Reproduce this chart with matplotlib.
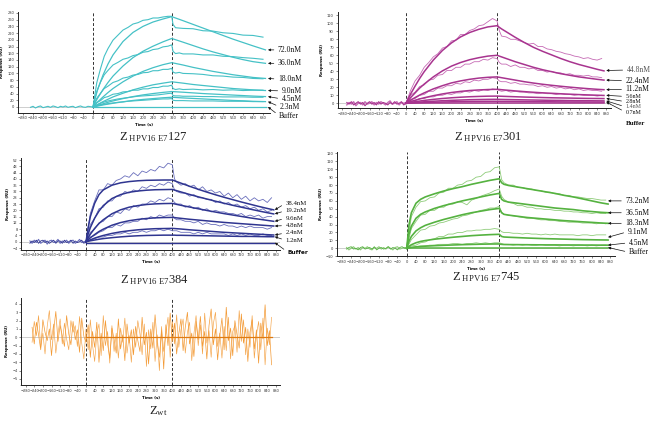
import matplotlib
matplotlib.use('Agg')
import matplotlib.pyplot as plt
from matplotlib.ticker import MultipleLocator

plt.rcParams['font.family'] = 'DejaVu Sans'
plt.rcParams['mathtext.fontset'] = 'custom'
plt.rcParams['mathtext.rm'] = 'Liberation Serif'
plt.rcParams['mathtext.it'] = 'Liberation Serif:italic'

# ---------------- shared time grids (s) ----------------
t_fit = [0, 10, 20, 40, 60, 80, 120, 160, 200, 240, 280, 320, 360, 400,
         410, 420, 440, 480, 520, 560, 600, 640, 680, 720, 760, 800, 840, 870]
t_raw = list(range(0, 401, 20)) + [410] + list(range(420, 861, 20))
t_base = list(range(-260, 1, 10))

# ---------------- Panel 1 : Z HPV16 E7 127 ----------------
p1_labels = ['72.0nM', '36.0nM', '18.0nM', '9.0nM', '4.5nM', '2.3nM', 'Buffer']
p1_t_fit = [0, 10, 20, 40, 60, 80, 120, 160, 200, 240, 280, 315,
            360, 400, 440, 480, 520, 560, 600, 640, 690]
p1_t_raw = [0, 15, 30, 45, 60, 80, 100, 120, 140, 160, 180, 200, 220, 240, 260,
            280, 300, 315, 320, 330, 345, 360, 400, 440, 480, 520, 560, 600, 640, 680]
p1_t_base = list(range(-250, 1, 10))
p1_fit_720 = [0, 30, 55, 95, 128, 155, 195, 222, 240, 253, 262, 269, 257, 246, 235, 224, 213, 202, 192, 182, 170]
p1_fit_360 = [0, 15, 28, 52, 73, 92, 122, 147, 166, 181, 194, 204, 193, 183, 173, 164, 156, 148, 141, 135, 130]
p1_fit_180 = [0, 8, 16, 30, 43, 55, 75, 92, 106, 117, 126, 132, 125, 118, 112, 106, 101, 96, 92, 88, 85]
p1_fit_090 = [0, 4, 8, 16, 23, 30, 41, 51, 59, 66, 71, 75, 71, 67, 64, 61, 58, 55, 53, 51, 49]
p1_fit_045 = [0, 2.5, 5, 9.5, 14, 18, 25, 31, 36, 40, 43.5, 46, 44, 42, 40, 38.5, 37, 35.5, 34, 32.5, 31]
p1_fit_023 = [0, 1.5, 3, 6, 8.5, 11, 15.5, 19.5, 22.5, 25, 27.5, 29, 27, 25.5, 24, 22.5, 21, 19.5, 18.5, 17, 16]
p1_raw_720 = [0, 72, 114, 151, 174, 199, 214, 229, 237, 247, 251, 258, 260, 265, 265, 268, 270, 270,
              246, 236, 235, 234, 233, 227, 226, 221, 219, 214, 213, 208]
p1_raw_360 = [0, 46, 74, 96, 109, 125, 133, 142, 146, 153, 156, 163, 165, 171, 173, 179, 181, 185,
              166, 159, 161, 158, 158, 155, 155, 151, 150, 147, 145, 142]
p1_raw_180 = [0, 26, 41, 55, 62, 73, 78, 86, 89, 95, 97, 102, 103, 108, 108, 112, 112, 115,
              104, 101, 103, 100, 99, 97, 93, 92, 89, 88, 85, 84]
p1_raw_090 = [0, 13, 19, 28, 31, 38, 40, 45, 46, 50, 50, 54, 54, 58, 58, 62, 62, 65,
              55, 52, 54, 52, 53, 51, 52, 50, 51, 49, 50, 50]
p1_raw_045 = [0, 6, 11, 15, 18, 21, 24, 26, 28, 30, 32, 33, 34, 35, 36, 38, 40, 41,
              34, 33, 33, 32, 32, 31, 31, 30, 30, 30, 29, 29]
p1_raw_023 = [0, 3, 6, 8, 10, 12, 14, 15, 17, 18, 19, 20, 21, 22, 23, 24, 24, 25,
              20, 19, 19, 19, 18, 18, 18, 17, 17, 17, 16, 16]
p1_base = [-1, 2, -3, 1, 3, -2, 0, 2, -1, 3, 1, -2, 2, 0, 3, -1, 1, 2, -2, 1, 3, 0, -1, 2, 1, 0]

# ---------------- Panel 2 : Z HPV16 E7 301 ----------------
p2_labels = ['44.8nM', '22.4nM', '11.2nM', '5.6nM', '2.8nM', '1.4nM', '0.7nM', 'Buffer']
p2_fit_448 = [0, 6, 11.5, 21.5, 31, 39.5, 54, 66, 75.5, 83, 88.5, 92.5, 95.5, 97,
              95, 93, 89.5, 82.5, 76, 70, 65, 60.5, 56, 52, 48.5, 45.5, 42.5, 40.5]
p2_fit_224 = [0, 3.5, 7, 13, 19, 24, 33, 40.5, 46.5, 51, 54.5, 57, 59, 60,
              59, 58, 56, 52, 48.5, 45, 42, 39.5, 37, 35, 33, 31.5, 30, 29]
p2_fit_112 = [0, 2, 3.8, 7.2, 10.3, 13, 18, 22, 25.5, 28, 30, 31.5, 32.5, 33,
              32.5, 32, 31, 29, 27, 25.3, 23.8, 22.5, 21.3, 20.2, 19.2, 18.3, 17.5, 17]
p2_fit_056 = [0, 1, 2, 3.8, 5.4, 6.9, 9.5, 11.7, 13.5, 14.9, 16, 16.7, 17.2, 17.5,
              17.3, 17, 16.5, 15.5, 14.6, 13.8, 13.1, 12.5, 11.9, 11.4, 10.9, 10.5, 10.1, 9.8]
p2_fit_028 = [0, 0.5, 1, 2, 2.8, 3.6, 4.9, 6, 6.9, 7.6, 8.2, 8.6, 8.9, 9,
              8.9, 8.8, 8.6, 8.2, 7.8, 7.5, 7.2, 6.9, 6.7, 6.5, 6.3, 6.1, 6, 5.9]
p2_fit_014 = [0, 0.3, 0.5, 1, 1.5, 1.9, 2.6, 3.2, 3.7, 4.1, 4.5, 4.7, 4.9, 5,
              4.9, 4.8, 4.7, 4.5, 4.3, 4.1, 3.9, 3.7, 3.6, 3.4, 3.3, 3.2, 3.1, 3]
p2_fit_007 = [0, 0.1, 0.3, 0.5, 0.7, 0.9, 1.3, 1.6, 1.9, 2.1, 2.3, 2.4, 2.5, 2.5,
              2.5, 2.4, 2.4, 2.3, 2.2, 2.1, 2, 1.9, 1.8, 1.7, 1.7, 1.6, 1.6, 1.5]
p2_raw_448 = [0, 16, 28, 35, 45, 51, 58, 62, 69, 71, 78, 79, 86, 86, 91, 93, 97, 98, 102, 106, 103, 91,
              84, 83, 80, 80, 78, 76, 74, 75, 71, 71, 68, 67, 65, 64, 62, 61, 59, 58, 56, 57, 55, 54, 56]
p2_raw_224 = [0, 10, 14, 21, 23, 29, 30, 35, 36, 41, 41, 45, 45, 49, 49, 52, 52, 55, 54, 57, 56, 51,
              49, 49, 46, 48, 45, 45, 43, 44, 41, 41, 39, 40, 38, 38, 36, 37, 35, 35, 34, 35, 33, 33, 32]
p2_raw_112 = [0, 5, 6, 10, 11, 15, 15, 19, 19, 22, 22, 25, 24, 27, 26, 29, 28, 30, 30, 32, 31, 28,
              27, 27, 25, 26, 24, 24, 23, 23, 21, 22, 20, 21, 19, 20, 18, 19, 17, 18, 16, 17, 16, 16, 15]
p2_raw_056 = [0, 3, 3, 6, 6, 8, 8, 10, 10, 12, 11, 13, 13, 15, 14, 16, 15, 17, 16, 18, 17, 16,
              15, 16, 14, 15, 14, 14, 13, 13, 12, 13, 12, 12, 11, 12, 11, 11, 10, 11, 10, 10, 10, 9, 10]
p2_base_a = [-2, 1, -1, 2, -3, 0, 1, -2, 2, -1, 0, 2, -2, 1, -1, 2, 0, -2, 1, 3, -1, 0, 2, -2, 1, 0, 1]
p2_base_b = [1, -1, 2, -2, 0, 2, -1, 1, -3, 0, 2, -1, 1, -2, 2, -1, 1, 0, -2, 1, -1, 2, -1, 0, 2, -2, 0]

# ---------------- Panel 3 : Z HPV16 E7 384 ----------------
p3_labels = ['38.4nM', '19.2nM', '9.6nM', '4.8nM', '2.4nM', '1.2nM', 'Buffer']
p3_fit_384 = [0, 9, 16, 24.5, 30, 33, 36, 37.5, 38.3, 38.8, 39.1, 39.2, 39.3, 39.3,
              38.8, 38.3, 37.3, 35.3, 33.4, 31.6, 29.9, 28.3, 26.8, 25.3, 23.9, 22.5, 21.2, 20.3]
p3_fit_192 = [0, 5, 9, 15, 19.5, 23, 27.5, 30, 31.5, 32.3, 32.8, 33.1, 33.2, 33.3,
              32.9, 32.5, 31.7, 30.1, 28.6, 27.2, 25.8, 24.5, 23.2, 22, 20.8, 19.6, 18.5, 17.7]
p3_fit_096 = [0, 2.5, 4.8, 8.5, 11.6, 14, 17.8, 20.3, 22, 23, 23.7, 24.1, 24.3, 24.4,
              24.1, 23.8, 23.2, 22.1, 21, 19.9, 18.9, 17.9, 17, 16.1, 15.2, 14.4, 13.6, 13]
p3_fit_048 = [0, 1.3, 2.5, 4.6, 6.5, 8, 10.5, 12.2, 13.4, 14.2, 14.8, 15.2, 15.4, 15.5,
              15.4, 15.2, 14.9, 14.3, 13.8, 13.3, 12.8, 12.3, 11.9, 11.5, 11.1, 10.7, 10.3, 10]
p3_fit_024 = [0, 0.6, 1.2, 2.3, 3.2, 4, 5.3, 6.3, 7, 7.6, 8, 8.3, 8.4, 8.5,
              8.4, 8.3, 8.1, 7.6, 7.2, 6.8, 6.4, 6.0, 5.7, 5.4, 5.1, 4.8, 4.5, 4.3]
p3_fit_012 = [0, 0.3, 0.6, 1.1, 1.6, 2, 2.6, 3.1, 3.5, 3.8, 4, 4.1, 4.2, 4.2,
              4.2, 4.1, 4.1, 4, 3.9, 3.8, 3.7, 3.6, 3.5, 3.4, 3.4, 3.3, 3.2, 3.2]
p3_raw_384 = [0, 18, 26, 33, 33, 37, 36, 39, 40, 42, 41, 44, 42, 45, 44, 46, 45, 48, 47, 50, 49, 40,
              38, 36, 37, 35, 36, 33, 35, 32, 33, 31, 32, 29, 31, 28, 30, 27, 29, 26, 28, 26, 27, 25, 28]
p3_raw_192 = [0, 11, 15, 21, 22, 26, 26, 29, 29, 32, 31, 33, 32, 35, 34, 36, 35, 37, 36, 38, 37, 33,
              32, 31, 31, 29, 30, 28, 28, 27, 27, 25, 26, 24, 25, 23, 24, 22, 23, 21, 22, 20, 21, 19, 20]
p3_raw_096 = [0, 6, 8, 12, 13, 16, 16, 19, 18, 21, 20, 23, 22, 24, 24, 26, 25, 27, 26, 28, 27, 25,
              24, 24, 22, 23, 21, 22, 20, 21, 19, 20, 19, 19, 18, 18, 17, 18, 16, 17, 16, 17, 15, 16, 16]
p3_raw_048 = [0, 3, 4, 6, 7, 9, 9, 11, 10, 12, 12, 13, 13, 15, 14, 16, 15, 17, 16, 17, 17, 15,
              14, 14, 13, 13, 12, 13, 11, 12, 11, 11, 10, 11, 10, 10, 9, 10, 9, 10, 9, 9, 9, 8, 9]
p3_raw_024 = [0, 1, 2, 3, 3, 4, 4, 5, 5, 6, 5, 6, 6, 7, 6, 7, 7, 8, 7, 8, 7, 7,
              7, 6, 6, 6, 5, 6, 5, 6, 5, 5, 5, 5, 4, 5, 4, 5, 4, 5, 4, 4, 5, 4, 4]
p3_base_a = [0.5, -1, 1, -0.5, 1.5, -1, 0, 1, -1.5, 0.5, 1, -0.5, 0, 1.5, -1, 0.5, -0.5, 1, -1, 0.5,
             1, -1, 0, 1.5, -0.5, 0, 0.5]
p3_base_b = [-1, 0.5, -0.5, 1, -1, 0.5, 1, -0.5, 0.5, -1, 0, 1, -1, 0.5, 0.5, -1, 1, -0.5, 0, 1,
             -1, 0.5, -0.5, 0, 1, -1, 0]

# ---------------- Panel 4 : Z HPV16 E7 745 ----------------
p4_labels = ['73.2nM', '36.5nM', '18.3nM', '9.1nM', '4.5nM', 'Buffer']
p4_fit_732 = [0, 30, 45, 57, 62, 65, 69, 72.5, 75.5, 78, 81, 83.5, 86, 88,
              83, 81, 79.5, 77.5, 75.5, 73.5, 71.5, 69.5, 67, 65, 62.5, 60, 57.5, 56]
p4_fit_365 = [0, 18, 28, 38, 43, 46, 50.5, 54, 57, 60, 62.5, 65, 67.5, 69.5,
              62, 60, 58.5, 57, 55.5, 54, 52.5, 51, 50, 49, 47.5, 46.5, 45.5, 45]
p4_fit_183 = [0, 9, 15, 22, 26, 29, 33, 36.5, 39.5, 42.5, 45, 47, 49, 50.5,
              45, 43, 42, 40.5, 39, 38, 37, 36, 35, 34.3, 33.5, 32.8, 32, 31.6]
p4_fit_091 = [0, 2.5, 4.5, 7, 8.7, 9.8, 11.5, 12.8, 14, 15, 16, 16.7, 17.3, 17.7,
              15, 14.3, 14, 13.5, 13, 12.6, 12.2, 11.9, 11.6, 11.3, 11, 10.8, 10.6, 10.5]
p4_fit_045 = [0, 0.6, 1.1, 1.8, 2.3, 2.7, 3.3, 3.8, 4.2, 4.6, 4.9, 5.2, 5.4, 5.5,
              5, 4.8, 4.7, 4.6, 4.5, 4.4, 4.3, 4.3, 4.2, 4.2, 4.1, 4.1, 4, 4]
p4_raw_732 = [0, 40, 52, 59, 60, 64, 65, 70, 71, 76, 76, 80, 81, 85, 86, 90, 91, 96, 97, 102, 103, 87,
              83, 80, 80, 77, 77, 75, 75, 73, 73, 71, 71, 69, 69, 67, 67, 65, 65, 64, 63, 63, 62, 61, 61]
p4_raw_365 = [0, 25, 34, 42, 43, 48, 48, 52, 52, 56, 56, 59, 58, 55, 61, 63, 66, 68, 70, 73, 75, 66,
              62, 58, 57, 54, 54, 52, 52, 50, 50, 49, 49, 48, 48, 47, 47, 46, 46, 45, 45, 44, 45, 44, 44]
p4_raw_183 = [0, 11, 17, 23, 24, 28, 29, 32, 33, 35, 37, 38, 41, 42, 44, 46, 48, 49, 51, 51, 53, 46,
              43, 42, 41, 40, 39, 38, 38, 37, 36, 36, 35, 35, 34, 34, 33, 33, 33, 32, 32, 32, 31, 32, 31]
p4_raw_091 = [0, 3, 4, 7, 8, 11, 12, 15, 15, 18, 18, 20, 20, 22, 22, 23, 23, 24, 24, 25, 24, 21,
              20, 20, 19, 19, 18, 19, 18, 18, 17, 18, 17, 18, 17, 17, 17, 17, 16, 17, 17, 16, 17, 17, 17]
p4_raw_045 = [0, 1, 2, 3, 3, 4, 4, 5, 5, 5, 6, 6, 5, 6, 6, 7, 6, 7, 6, 7, 7, 6,
              5, 5, 4, 5, 4, 5, 4, 4, 5, 4, 4, 4, 3, 4, 4, 3, 4, 4, 3, 4, 3, 4, 4]
p4_base_a = [1, -2, 0, 2, -1, 1, -2, 1, 0, 2, -1, -2, 1, 0, 2, -1, 1, -1, 2, 0, -2, 1, 2, -1, 0, 1, 0]
p4_base_b = [-1, 1, 2, -1, 0, -2, 1, 2, -1, 0, 1, -1, 2, -2, 0, 1, -1, 0, 2, -1, 1, 0, -2, 1, 2, 0, 1]

# ---------------- Panel 5 : Z wt ----------------
p5_t = list(range(-250, 861, 10))
p5_raw_a = [1.2, -0.8, 1.8, 0.3, -1.5, 2.1, 0.6, -0.4, 1.0, -2.2,
            0.8, 3.1, -0.5, 1.4, 0.2, -1.1, 2.6, 0.4, -0.9, 1.9,
            -0.3, 0.9, -1.8, 2.3, 0.1, -0.6, 1.5, -2.4, 0.7, -1.2,
            1.8, -3.0, 0.5, -1.6, 2.0, -0.8, -2.5, 1.1, -0.2, -1.9,
            2.2, -1.4, 0.3, -2.8, 1.6, -0.7, 0.9, -2.1, 1.3, -0.4,
            -1.7, 2.4, -0.9, 0.6, -3.2, 1.0, -1.3, 2.7, -0.6, -2.4,
            0.8, -3.8, 1.5, -1.0, 2.9, -0.5, 1.7, -2.0, 0.4, 2.2,
            -1.6, 1.2, 3.0, -0.8, 0.5, -2.3, 1.9, -0.3, 2.5, -1.1,
            0.7, -2.6, 1.4, 3.4, -0.9, 1.0, -2.7, 0.2, 2.3, -1.5,
            3.6, -0.4, 1.1, -2.2, 2.0, 0.3, -1.3, 2.8, -0.7, 1.2,
            -2.9, 0.6, 2.1, -1.4, 0.9, -3.1, 1.7, -0.2, 3.9, -1.0, 0.8, -3.3]
p5_raw_b = [-0.6, 1.9, 0.2, 2.6, -1.2, 0.5, -2.0, 1.3, 3.2, -0.3,
            1.6, -1.9, 0.4, 2.2, -0.8, 1.7, -0.2, -1.5, 2.0, 0.6,
            1.4, -1.1, 2.5, -0.7, -2.6, 1.0, -1.5, 2.1, -0.9, -2.9,
            0.4, 1.6, -2.2, 2.6, -1.0, 0.7, -3.1, 1.4, -1.7, 0.5,
            -2.5, 1.1, -0.6, 2.3, -1.9, 0.2, -3.0, 1.0, -1.2, 2.0,
            0.4, -2.1, 1.6, -3.5, 0.9, -1.4, 1.8, -2.9, 0.3, -4.0,
            1.3, -1.7, 0.5, 2.4, -2.4, 1.9, -0.8, 2.7, -1.2, 0.9,
            2.2, -1.9, 0.6, 1.8, -2.8, 0.4, 2.6, -1.0, 1.5, -2.0,
            2.9, -0.7, 0.8, -2.4, 1.6, 3.0, -1.1, 0.5, -2.5, 1.3,
            -1.6, 2.4, -2.6, 0.7, 1.4, -1.8, 3.2, -0.5, 2.1, -2.1,
            1.0, -1.2, 2.6, -2.5, 0.3, 1.9, -1.5, 2.3, -3.3, 1.1, -0.9, 2.4]

# ---------------- colours ----------------
c1 = '#45C1C6'
c2_fit, c2_raw = '#A8348F', '#C66BB5'
c3_fit, c3_raw = '#2F3590', '#6A6FBC'
c4_fit, c4_raw = '#55B240', '#8FCC7A'
c5_raw, c5_fit = '#F39A35', '#E07B10'

W, H = 650, 423
fig = plt.figure(figsize=(6.5, 4.23), dpi=100)


def add_ax(l, t, r, b):
    return fig.add_axes([l / W, 1 - b / H, (r - l) / W, (b - t) / H])


def style(ax, xlim, ylim, xmaj, ymaj, xmin_t, xmax_t, ymin_t, ymax_t):
    ax.set_xlim(*xlim)
    ax.set_ylim(*ylim)
    ax.set_xticks(list(range(xmin_t, xmax_t + 1, xmaj)))
    ax.xaxis.set_minor_locator(MultipleLocator(xmaj / 2))
    yt = []
    v = ymin_t
    while v <= ymax_t + 1e-9:
        yt.append(v)
        v += ymaj
    ax.set_yticks(yt)
    for s in ('top', 'right'):
        ax.spines[s].set_visible(False)
    for s in ('left', 'bottom'):
        ax.spines[s].set_linewidth(0.7)
        ax.spines[s].set_color('#222222')
    ax.tick_params(axis='both', which='major', labelsize=2.6, length=1.5, width=0.4, pad=1.2,
                   colors='#333333')
    ax.tick_params(axis='x', which='minor', length=1.0, width=0.3, colors='#333333')
    ax.set_xlabel('Time (s)', fontsize=2.8, fontweight='bold', labelpad=2)
    ax.set_ylabel('Response (RU)', fontsize=2.8, fontweight='bold', labelpad=2)
    ax.axhline(0, color='#BBBBBB', lw=0.5, zorder=0)
    ax.patch.set_alpha(0)


def vdash(ax, xs):
    for x in xs:
        ax.axvline(x, color='#333333', lw=0.7, ls=(0, (3, 2)), zorder=1)


def label(ax, text, xt, yt, xa, ya, family='Liberation Serif', size=5.5, weight='normal', arrow=True,
          color='#111111'):
    if arrow:
        ax.annotate(text, xy=(xa, ya), xytext=(xt, yt), fontsize=size, family=family, weight=weight,
                    color=color, va='center', ha='left', annotation_clip=False,
                    arrowprops=dict(arrowstyle='-|>', color='#111111', lw=0.5, mutation_scale=3.5,
                                    shrinkA=1, shrinkB=0, relpos=(0, 0.5)))
    else:
        ax.text(xt, yt, text, fontsize=size, family=family, weight=weight, color=color,
                va='center', ha='left', clip_on=False)


def title(x, y, s):
    fig.text(x / W, 1 - y / H, s, ha='center', va='center', fontsize=9,
             family='Liberation Serif', color='#222222')


# ---------------- Panel 1 ----------------
ax1 = add_ax(18, 11.6, 270, 112.7)
style(ax1, (-300, 708), (-17, 284), 40, 20, -280, 680, 0, 280)
vdash(ax1, [0, 315])
ax1.plot(p1_t_base, p1_base, color=c1, lw=0.8)
for raw in (p1_raw_720, p1_raw_360, p1_raw_180, p1_raw_090, p1_raw_045, p1_raw_023):
    ax1.plot(p1_t_raw, raw, color=c1, lw=0.8)
for fit in (p1_fit_720, p1_fit_360, p1_fit_180, p1_fit_090, p1_fit_045, p1_fit_023):
    ax1.plot(p1_t_fit, fit, color=c1, lw=0.9)
ax1.plot([0, 690], [0, 0], color=c1, lw=0.9)
p1_lab_y = [170, 130, 83, 48, 24, 0, -26]
p1_arr_y = [170, 130, 85, 49, 31, 16, 0]
p1_lab_x = [740, 740, 740, 755, 755, 748, 745]
for s, yt, ya, xt in zip(p1_labels, p1_lab_y, p1_arr_y, p1_lab_x):
    label(ax1, s, xt, yt, 700, ya)
title(153, 137, r'Z$_{\ \mathrm{HPV16\ E7}}$127')

# ---------------- Panel 2 ----------------
ax2 = add_ax(337.7, 12.1, 610.8, 108.1)
style(ax2, (-300, 900), (-6, 114), 40, 10, -280, 880, 0, 110)
vdash(ax2, [0, 400])
ax2.plot(t_base, p2_base_a, color=c2_raw, lw=1.0)
ax2.plot(t_base, p2_base_b, color=c2_fit, lw=0.8)
for raw in (p2_raw_448, p2_raw_224, p2_raw_112, p2_raw_056):
    ax2.plot(t_raw, raw, color=c2_raw, lw=0.6)
for fit in (p2_fit_448, p2_fit_224, p2_fit_112, p2_fit_056, p2_fit_028, p2_fit_014, p2_fit_007):
    ax2.plot(t_fit, fit, color=c2_fit, lw=1.1)
ax2.plot([0, 870], [0, 0], color=c2_fit, lw=1.1)
p2_lab_y = [41.6, 28.3, 17.5, 8.5, 2, -4.5, -11, -25]
p2_arr_y = [41, 29, 17, 10, 6, 3, 1.5, 0]
p2_lab_size = [5.5, 5.5, 5.5, 4.3, 4.3, 4.3, 4.3, 5.0]
for i, (s, yt, ya, fs) in enumerate(zip(p2_labels, p2_lab_y, p2_arr_y, p2_lab_size)):
    col = '#555555' if s in ('44.8nM', '1.4nM') else '#111111'
    label(ax2, s, 965 if i > 0 else 970, yt, 880, ya, arrow=(s != 'Buffer'), color=col, size=fs,
          weight='bold' if s == 'Buffer' else 'normal')
title(488, 137, r'Z$_{\ \mathrm{HPV16\ E7}}$301')

# ---------------- Panel 3 ----------------
ax3 = add_ax(21.3, 157.7, 280.2, 249.6)
style(ax3, (-300, 900), (-5, 53.5), 40, 4, -280, 880, -4, 52)
vdash(ax3, [0, 400])
ax3.plot(t_base, p3_base_a, color=c3_raw, lw=0.8)
ax3.plot(t_base, p3_base_b, color=c3_fit, lw=0.6)
for raw in (p3_raw_384, p3_raw_192, p3_raw_096, p3_raw_048, p3_raw_024):
    ax3.plot(t_raw, raw, color=c3_raw, lw=0.6)
for fit in (p3_fit_384, p3_fit_192, p3_fit_096, p3_fit_048, p3_fit_024, p3_fit_012):
    ax3.plot(t_fit, fit, color=c3_fit, lw=1.1)
ax3.plot([0, 870], [-0.6, -0.6], color=c3_fit, lw=1.0)
p3_lab_y = [24.5, 19.8, 15.0, 10.3, 5.6, 0.9, -6.6]
p3_arr_y = [20.3, 17.7, 13, 10, 4.3, 3.2, -0.6]
for s, yt, ya in zip(p3_labels, p3_lab_y, p3_arr_y):
    if s == 'Buffer':
        label(ax3, s, 935, yt, 875, ya, family='DejaVu Sans', size=4.2, weight='bold')
    else:
        label(ax3, s, 925, yt, 875, ya, size=4.9)
title(154, 280, r'Z$_{\ \mathrm{HPV16\ E7}}$384')

# ---------------- Panel 4 ----------------
ax4 = add_ax(337.3, 151.9, 615, 256.2)
style(ax4, (-300, 900), (-10, 122), 40, 10, -280, 880, -10, 120)
vdash(ax4, [0, 400])
ax4.plot(t_base, p4_base_a, color=c4_raw, lw=0.8)
ax4.plot(t_base, p4_base_b, color=c4_fit, lw=0.6)
for raw in (p4_raw_732, p4_raw_365, p4_raw_183, p4_raw_091, p4_raw_045):
    ax4.plot(t_raw, raw, color=c4_raw, lw=0.6)
for fit in (p4_fit_732, p4_fit_365, p4_fit_183, p4_fit_091, p4_fit_045):
    ax4.plot(t_fit, fit, color=c4_fit, lw=1.2)
ax4.plot([0, 870], [1, 1], color=c4_fit, lw=1.1)
p4_lab_y = [60, 45, 31.6, 21, 7, -5]
p4_arr_y = [60, 45, 31.6, 14, 4, 1]
p4_lab_x = [945, 945, 945, 955, 960, 960]
for s, yt, ya, xt in zip(p4_labels, p4_lab_y, p4_arr_y, p4_lab_x):
    label(ax4, s, xt, yt, 870, ya)
title(486, 277, r'Z$_{\ \mathrm{HPV16\ E7}}$745')

# ---------------- Panel 5 ----------------
ax5 = add_ax(21.3, 298.1, 280.2, 384.8)
style(ax5, (-300, 900), (-5.7, 4.7), 40, 1, -280, 880, -5, 4)
vdash(ax5, [0, 400])
ax5.plot(p5_t, p5_raw_b, color=c5_raw, lw=0.45, alpha=0.9)
ax5.plot(p5_t, p5_raw_a, color=c5_raw, lw=0.5)
ax5.plot([0, 860], [0, 0], color=c5_fit, lw=0.9)
title(158, 411, r'Z$_{\mathrm{wt}}$')

fig.savefig('out.png', dpi=100)
